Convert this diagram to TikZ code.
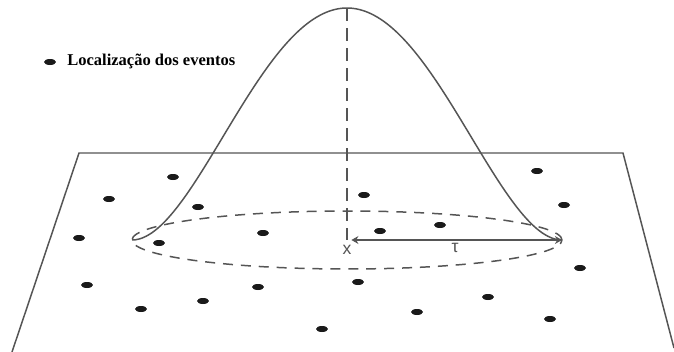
\documentclass[tikz,border=0pt]{standalone}
\usepackage{fontspec}
\setmainfont{Liberation Serif}
\setsansfont{Liberation Sans}
\usepackage{tikz}
\usetikzlibrary{positioning, arrows.meta}
\definecolor{myGray}{HTML}{555555}
\definecolor{myInk}{HTML}{1A1A1A}

\begin{document}
\begin{tikzpicture}[
  x=0.02cm, y=-0.02cm,
  plano/.style={draw=myGray, line width=0.85pt},
  tracejado/.style={draw=myGray, line width=0.85pt, dash pattern=on 5.7pt off 4.5pt},
  eixo/.style={draw=myGray, line width=0.85pt, dash pattern=on 7.4pt off 4pt},
  seta/.style={draw=myGray, line width=0.85pt,
               {Stealth[length=4pt,width=4.5pt]}-{Stealth[length=4pt,width=4.5pt]}},
  rotulo/.style={font=\sffamily\fontsize{10}{12}\selectfont, text=myGray, inner sep=1pt},
  legenda/.style={font=\bfseries\fontsize{9.4}{11}\selectfont, text=black, inner sep=0pt}
]
\useasboundingbox (0,0) rectangle (674,352);

\draw[plano] (12,352) -- (79,153) -- (623,153) -- (674,348);

\coordinate (centro) at (347,240);
\coordinate (topo) at (347,8);
\coordinate (borda) at (562,240);

\draw[tracejado] (centro) ellipse [x radius=4.3cm, y radius=0.58cm];
\draw[plano] plot[domain=-215:215, samples=120, smooth]
  ({347+\x},{240-232*(1-(\x/215)^2)^2});
\draw[eixo] (topo) -- (centro);
\draw[seta, shorten <=2.5pt] (centro) -- (borda);

\node[rotulo, below=1.5pt of centro] (xlab) {x};
\node[rotulo, anchor=north] (tau) at (455,241) {τ};

\foreach \px/\py in {173/177, 109/199, 198/207, 79/238, 159/243, 263/233,
  364/195, 380/231, 440/225, 537/171, 564/205, 580/268,
  87/285, 141/309, 203/301, 258/287, 322/329,
  358/282, 417/312, 488/297, 550/319}
  \fill[myInk] (\px,\py) ellipse [x radius=0.12cm, y radius=0.06cm];

\fill[myInk] (50,62) ellipse [x radius=0.12cm, y radius=0.06cm];
\node[legenda, anchor=west] (leg) at (67,61) {Localização dos eventos};
\end{tikzpicture}
\end{document}
